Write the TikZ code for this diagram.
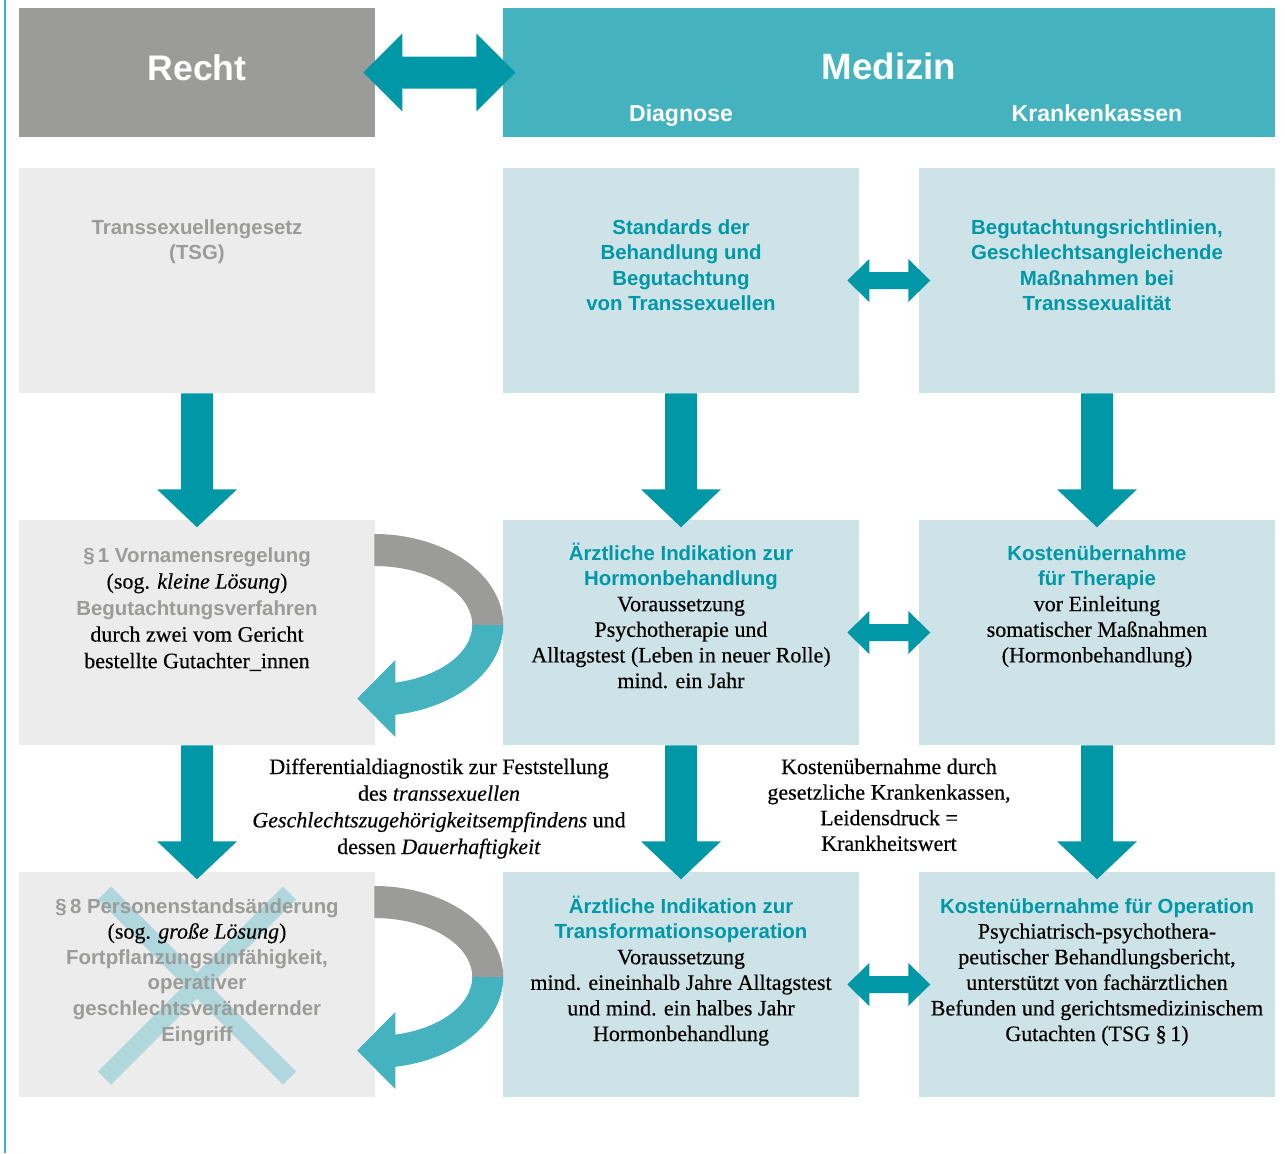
\documentclass[tikz,border=0pt]{standalone}
\usepackage{fontspec}
\setmainfont{Liberation Serif}
\setsansfont{Liberation Sans}
\newfontfamily\bodyfam{Liberation Serif}[FakeBold=0.35]
\usetikzlibrary{calc}
\definecolor{rgray}{HTML}{9B9B99}
\definecolor{lgray}{HTML}{ECECEC}
\definecolor{hteal}{HTML}{45B3BF}
\definecolor{dteal}{HTML}{0097A7}
\definecolor{lblue}{HTML}{CDE3E8}
\definecolor{xcol}{HTML}{B0D7DC}
\newcommand\blk[2][19.2pt]{\vtop{\baselineskip=#1\lineskiplimit=-\maxdimen\halign{\hfil\bgroup##\egroup\hfil\cr#2\crcr}}}
\newcommand\grayhd{\sffamily\bfseries\fontsize{15.3}{19.2}\selectfont\color{rgray}}
\newcommand\tealhd{\sffamily\bfseries\fontsize{15.3}{19.2}\selectfont\color{dteal}}
\newcommand\bodytx{\bodyfam\mdseries\fontsize{16.5}{19.2}\selectfont\color{black}}
% horizontal double block arrow: tip, length, head length, head half height, shaft half height
\newcommand\hdbl[5]{\fill[dteal] (#1) -- ++(#3,{-#4}) -- ++(0,{#4-#5}) -- ++({#2-2*#3},0) -- ++(0,{-(#4-#5)}) -- ++(#3,#4) -- ++({-#3},#4) -- ++(0,{-(#4-#5)}) -- ++({-(#2-2*#3)},0) -- ++(0,{#4-#5}) -- cycle;}
% downward block arrow starting at south of a node
\newcommand\vdn[1]{\fill[dteal] ($(#1.south)+(-16,0)$) -- ++(0,96) -- ++(-24,0) -- ++(40,38) -- ++(40,-38) -- ++(-24,0) -- ++(0,-96) -- cycle;}
% curved return arrow around a centre coordinate
\newcommand\curv[1]{%
 \fill[rgray] ($(#1)+(0,-91)$) arc[start angle=-90,end angle=0,x radius=129,y radius=91] -- ($(#1)+(98,0)$) arc[start angle=0,end angle=-90,x radius=98,y radius=59] -- cycle;
 \fill[hteal] ($(#1)+(129,0)$) arc[start angle=0,end angle=80.63,x radius=129,y radius=91] -- ($(#1)+(21,112)$) -- ($(#1)+(-17,73.5)$) -- ($(#1)+(21,35)$) -- ($(#1)+(21,57.6)$) arc[start angle=77.63,end angle=0,x radius=98,y radius=59] -- cycle;}
\tikzset{
 bx/.style={minimum width=267pt, minimum height=168.75pt, inner sep=0pt, draw=none, anchor=center},
 gbox/.style={bx, fill=lgray},
 bbox/.style={bx, fill=lblue},
 txt/.style={inner sep=0pt, anchor=base},
}
\begin{document}
\begin{tikzpicture}[x=0.75pt,y=-0.75pt]
\useasboundingbox (0,0) rectangle (1285,1153);
\fill[white] (0,0) rectangle (1285,1153);
\draw[hteal, line width=1.5pt] (5,0) -- (5,1153);
% header
\node[fill=rgray, minimum width=267pt, minimum height=96.75pt, inner sep=0pt] (recht) at (197,72.5) {};
\node[fill=hteal, minimum width=579pt, minimum height=96.75pt, inner sep=0pt] (medizin) at (889,72.5) {};
% boxes
\node[gbox] (l1) at (197,280.5) {};
\node[bbox] (m1) at (681,280.5) {};
\node[bbox] (r1) at (1097,280.5) {};
\node[gbox] (l2) at (197,632.5) {};
\node[bbox] (m2) at (681,632.5) {};
\node[bbox] (r2) at (1097,632.5) {};
\node[gbox] (l3) at (197,984.5) {};
\node[bbox] (m3) at (681,984.5) {};
\node[bbox] (r3) at (1097,984.5) {};
% arrows
\hdbl{$(recht.east)+(-12,0)$}{152}{39}{39}{16}
\hdbl{$(m1.east)+(-12,0)$}{83}{22}{21.5}{8.5}
\hdbl{$(m2.east)+(-12,0)$}{83}{22}{21.5}{8.5}
\hdbl{$(m3.east)+(-12,0)$}{83}{22}{21.5}{8.5}
\vdn{l1}\vdn{m1}\vdn{r1}
\vdn{l2}\vdn{m2}\vdn{r2}
\coordinate (c2) at ($(l2.east)+(-1,-7.5)$);
\coordinate (c3) at ($(l3.east)+(-1,-7.5)$);
\curv{c2}
\curv{c3}
% cross
\draw[xcol, line width=13.9pt] ($(l3.center)+(-92.5,-91.5)$) -- ($(l3.center)+(92.5,93.5)$);
\draw[xcol, line width=13.9pt] ($(l3.center)+(92.5,-91.5)$) -- ($(l3.center)+(-92.5,93.5)$);
% header texts
\node[txt, text=white, font=\sffamily\bfseries\fontsize{26.7}{32}\selectfont] (trecht) at (197,80) {Recht};
\node[txt, text=white, font=\sffamily\bfseries\fontsize{27.5}{32}\selectfont] (tmed) at (889,79) {Medizin};
\node[txt, text=white, font=\sffamily\bfseries\fontsize{17.3}{20}\selectfont] (tdiag) at (681,121) {Diagnose};
\node[txt, text=white, font=\sffamily\bfseries\fontsize{17.3}{20}\selectfont] (tkk) at (1097,121) {Krankenkassen};
% row 1
\node[txt] (t1l) at (197,234) {\blk{\grayhd Transsexuellengesetz\cr\grayhd (TSG)}};
\node[txt] (t1m) at (681,234) {\blk{\tealhd Standards der\cr\tealhd Behandlung und\cr\tealhd Begutachtung\cr\tealhd von Transsexuellen}};
\node[txt] (t1r) at (1097,234) {\blk{\tealhd Begutachtungsrichtlinien,\cr\tealhd Geschlechtsangleichende\cr\tealhd Maßnahmen bei\cr\tealhd Transsexualität}};
% row 2
\node[txt] (t2l) at (197,562) {\blk[19.9pt]{\grayhd §\,1 Vornamensregelung\cr\bodytx (sog. \textit{kleine Lösung})\cr\grayhd Begutachtungsverfahren\cr\bodytx durch zwei vom Gericht\cr\bodytx bestellte Gutachter\_innen}};
\node[txt] (t2m) at (681,560) {\blk{\tealhd Ärztliche Indikation zur\cr\tealhd Hormonbehandlung\cr\bodytx Voraussetzung\cr\bodytx Psychotherapie und\cr\bodytx Alltagstest (Leben in neuer Rolle)\cr\bodytx mind. ein Jahr}};
\node[txt] (t2r) at (1097,560) {\blk{\tealhd Kostenübernahme\cr\tealhd für Therapie\cr\bodytx vor Einleitung\cr\bodytx somatischer Maßnahmen\cr\bodytx (Hormonbehandlung)}};
% between rows
\node[txt] (tdd) at (439,774) {\blk[20pt]{\bodytx Differentialdiagnostik zur Feststellung\cr\bodytx des \textit{transsexuellen}\cr\bodytx \textit{Geschlechtszugehörigkeitsempfindens} und\cr\bodytx dessen \textit{Dauerhaftigkeit}}};
\node[txt] (tku) at (889,774) {\blk{\bodytx Kostenübernahme durch\cr\bodytx gesetzliche Krankenkassen,\cr\bodytx Leidensdruck =\cr\bodytx Krankheitswert}};
% row 3
\node[txt] (t3l) at (197,913) {\blk{\grayhd §\,8 Personenstandsänderung\cr\bodytx (sog. \textit{große Lösung})\cr\grayhd Fortpflanzungsunfähigkeit,\cr\grayhd operativer\cr\grayhd geschlechtsverändernder\cr\grayhd Eingriff}};
\node[txt] (t3m) at (681,913) {\blk{\tealhd Ärztliche Indikation zur\cr\tealhd Transformationsoperation\cr\bodytx Voraussetzung\cr\bodytx mind. eineinhalb Jahre Alltagstest\cr\bodytx und mind. ein halbes Jahr\cr\bodytx Hormonbehandlung}};
\node[txt] (t3r) at (1097,913) {\blk{\tealhd Kostenübernahme für Operation\cr\bodytx Psychiatrisch-psychothera-\cr\bodytx peutischer Behandlungsbericht,\cr\bodytx unterstützt von fachärztlichen\cr\bodytx Befunden und gerichtsmedizinischem\cr\bodytx Gutachten (TSG §\,1)}};
\end{tikzpicture}
\end{document}
